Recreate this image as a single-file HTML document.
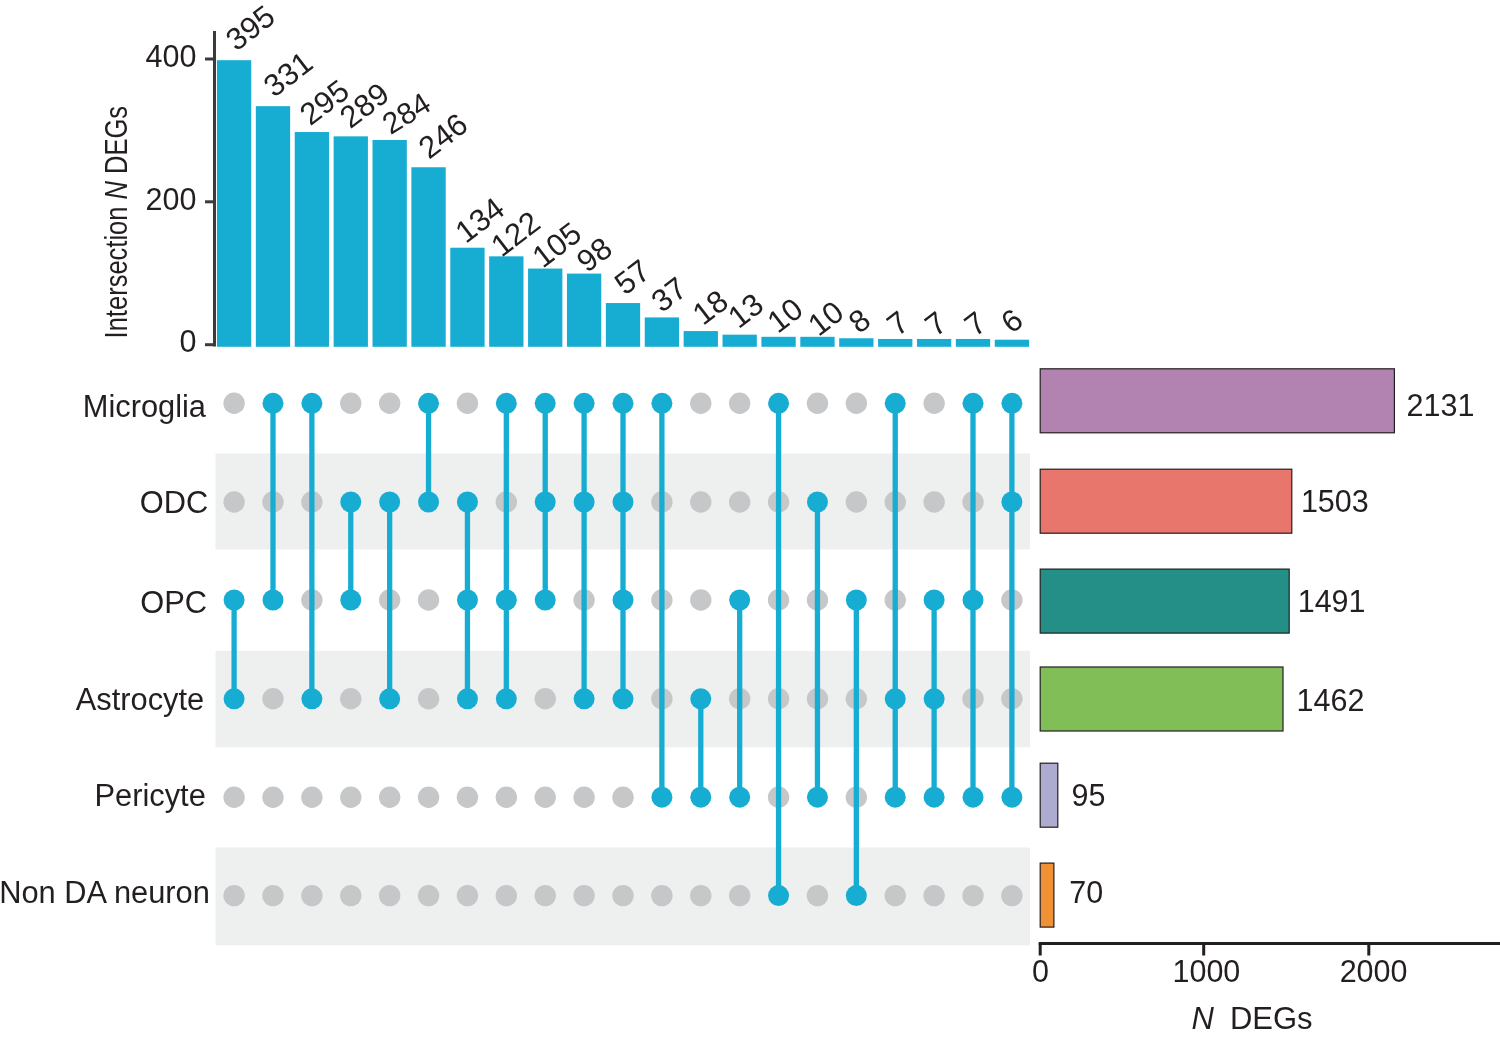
<!DOCTYPE html><html><head><meta charset="utf-8"><title>UpSet plot</title><style>html,body{margin:0;padding:0;background:#fff}svg{display:block}</style></head><body>
<svg width="1500" height="1039" viewBox="0 0 1500 1039" font-family="Liberation Sans, Arial, Helvetica, sans-serif" fill="#231f20">
<rect width="1500" height="1039" fill="#fff"/>
<rect x="215.5" y="453.5" width="814.5" height="96.0" fill="#eeefef"/>
<rect x="215.5" y="650.8" width="814.5" height="96.5" fill="#eeefef"/>
<rect x="215.5" y="847.5" width="814.5" height="97.79999999999995" fill="#eeefef"/>
<rect x="216.95" y="60.19" width="34.3" height="286.61" fill="#17add3"/>
<rect x="255.84" y="106.18" width="34.3" height="240.62" fill="#17add3"/>
<rect x="294.73" y="132.04" width="34.3" height="214.76" fill="#17add3"/>
<rect x="333.62" y="136.35" width="34.3" height="210.45" fill="#17add3"/>
<rect x="372.51" y="139.95" width="34.3" height="206.85" fill="#17add3"/>
<rect x="411.40" y="167.25" width="34.3" height="179.55" fill="#17add3"/>
<rect x="450.29" y="247.72" width="34.3" height="99.08" fill="#17add3"/>
<rect x="489.18" y="256.34" width="34.3" height="90.46" fill="#17add3"/>
<rect x="528.07" y="268.56" width="34.3" height="78.24" fill="#17add3"/>
<rect x="566.96" y="273.59" width="34.3" height="73.21" fill="#17add3"/>
<rect x="605.85" y="303.05" width="34.3" height="43.75" fill="#17add3"/>
<rect x="644.74" y="317.42" width="34.3" height="29.38" fill="#17add3"/>
<rect x="683.63" y="331.07" width="34.3" height="15.73" fill="#17add3"/>
<rect x="722.52" y="334.66" width="34.3" height="12.14" fill="#17add3"/>
<rect x="761.41" y="336.81" width="34.3" height="9.99" fill="#17add3"/>
<rect x="800.30" y="336.81" width="34.3" height="9.99" fill="#17add3"/>
<rect x="839.19" y="338.25" width="34.3" height="8.55" fill="#17add3"/>
<rect x="878.08" y="338.97" width="34.3" height="7.83" fill="#17add3"/>
<rect x="916.97" y="338.97" width="34.3" height="7.83" fill="#17add3"/>
<rect x="955.86" y="338.97" width="34.3" height="7.83" fill="#17add3"/>
<rect x="994.75" y="339.69" width="34.3" height="7.11" fill="#17add3"/>
<rect x="213" y="31" width="3" height="315.5" fill="#3d3a3d"/>
<rect x="205" y="57.5" width="9" height="3" fill="#3d3a3d"/>
<text x="196.5" y="66.7" font-size="30.5" text-anchor="end">400</text>
<rect x="205" y="200.3" width="9" height="3" fill="#3d3a3d"/>
<text x="196.5" y="209.5" font-size="30.5" text-anchor="end">200</text>
<rect x="205" y="343.2" width="9" height="3" fill="#3d3a3d"/>
<text x="196.5" y="352.4" font-size="30.5" text-anchor="end">0</text>
<text transform="translate(126.6,338.4) rotate(-90)" font-size="32" textLength="232.5" lengthAdjust="spacingAndGlyphs">Intersection <tspan font-style="italic">N</tspan> DEGs</text>
<text transform="translate(236.2,52.0) rotate(-37.5)" font-size="31">395</text>
<text transform="translate(274.0,98.2) rotate(-37.5)" font-size="31">331</text>
<text transform="translate(310.3,126.6) rotate(-37.5)" font-size="31">295</text>
<text transform="translate(350.3,129.5) rotate(-37.5)" font-size="31">289</text>
<text transform="translate(390.4,135.3) rotate(-31.5)" font-size="30">284</text>
<text transform="translate(429.0,160.0) rotate(-37.5)" font-size="31">246</text>
<text transform="translate(465.7,244.3) rotate(-37.5)" font-size="31">134</text>
<text transform="translate(501.4,258.1) rotate(-37.5)" font-size="31">122</text>
<text transform="translate(542.7,269.0) rotate(-37.5)" font-size="31">105</text>
<text transform="translate(587.0,273.5) rotate(-37.5)" font-size="31">98</text>
<text transform="translate(625.0,296.1) rotate(-37.5)" font-size="31">57</text>
<text transform="translate(661.8,313.5) rotate(-37.5)" font-size="31">37</text>
<text transform="translate(703.1,326.3) rotate(-37.5)" font-size="31">18</text>
<text transform="translate(738.4,329.5) rotate(-37.5)" font-size="31">13</text>
<text transform="translate(777.8,334.3) rotate(-37.5)" font-size="31">10</text>
<text transform="translate(818.5,337.3) rotate(-37.5)" font-size="31">10</text>
<text transform="translate(859.0,334.4) rotate(-37.5)" font-size="31">8</text>
<text transform="translate(897.5,337.1) rotate(-37.5)" font-size="31">7</text>
<text transform="translate(935.4,337.6) rotate(-37.5)" font-size="31">7</text>
<text transform="translate(975.0,337.6) rotate(-37.5)" font-size="31">7</text>
<text transform="translate(1011.4,334.6) rotate(-37.5)" font-size="31">6</text>
<circle cx="234.10" cy="403.3" r="10.7" fill="#c5c7c8"/>
<circle cx="234.10" cy="502.0" r="10.7" fill="#c5c7c8"/>
<circle cx="234.10" cy="797.2" r="10.7" fill="#c5c7c8"/>
<circle cx="234.10" cy="895.6" r="10.7" fill="#c5c7c8"/>
<circle cx="272.99" cy="502.0" r="10.7" fill="#c5c7c8"/>
<circle cx="272.99" cy="698.8" r="10.7" fill="#c5c7c8"/>
<circle cx="272.99" cy="797.2" r="10.7" fill="#c5c7c8"/>
<circle cx="272.99" cy="895.6" r="10.7" fill="#c5c7c8"/>
<circle cx="311.88" cy="502.0" r="10.7" fill="#c5c7c8"/>
<circle cx="311.88" cy="600.0" r="10.7" fill="#c5c7c8"/>
<circle cx="311.88" cy="797.2" r="10.7" fill="#c5c7c8"/>
<circle cx="311.88" cy="895.6" r="10.7" fill="#c5c7c8"/>
<circle cx="350.77" cy="403.3" r="10.7" fill="#c5c7c8"/>
<circle cx="350.77" cy="698.8" r="10.7" fill="#c5c7c8"/>
<circle cx="350.77" cy="797.2" r="10.7" fill="#c5c7c8"/>
<circle cx="350.77" cy="895.6" r="10.7" fill="#c5c7c8"/>
<circle cx="389.66" cy="403.3" r="10.7" fill="#c5c7c8"/>
<circle cx="389.66" cy="600.0" r="10.7" fill="#c5c7c8"/>
<circle cx="389.66" cy="797.2" r="10.7" fill="#c5c7c8"/>
<circle cx="389.66" cy="895.6" r="10.7" fill="#c5c7c8"/>
<circle cx="428.55" cy="600.0" r="10.7" fill="#c5c7c8"/>
<circle cx="428.55" cy="698.8" r="10.7" fill="#c5c7c8"/>
<circle cx="428.55" cy="797.2" r="10.7" fill="#c5c7c8"/>
<circle cx="428.55" cy="895.6" r="10.7" fill="#c5c7c8"/>
<circle cx="467.44" cy="403.3" r="10.7" fill="#c5c7c8"/>
<circle cx="467.44" cy="797.2" r="10.7" fill="#c5c7c8"/>
<circle cx="467.44" cy="895.6" r="10.7" fill="#c5c7c8"/>
<circle cx="506.33" cy="502.0" r="10.7" fill="#c5c7c8"/>
<circle cx="506.33" cy="797.2" r="10.7" fill="#c5c7c8"/>
<circle cx="506.33" cy="895.6" r="10.7" fill="#c5c7c8"/>
<circle cx="545.22" cy="698.8" r="10.7" fill="#c5c7c8"/>
<circle cx="545.22" cy="797.2" r="10.7" fill="#c5c7c8"/>
<circle cx="545.22" cy="895.6" r="10.7" fill="#c5c7c8"/>
<circle cx="584.11" cy="600.0" r="10.7" fill="#c5c7c8"/>
<circle cx="584.11" cy="797.2" r="10.7" fill="#c5c7c8"/>
<circle cx="584.11" cy="895.6" r="10.7" fill="#c5c7c8"/>
<circle cx="623.00" cy="797.2" r="10.7" fill="#c5c7c8"/>
<circle cx="623.00" cy="895.6" r="10.7" fill="#c5c7c8"/>
<circle cx="661.89" cy="502.0" r="10.7" fill="#c5c7c8"/>
<circle cx="661.89" cy="600.0" r="10.7" fill="#c5c7c8"/>
<circle cx="661.89" cy="698.8" r="10.7" fill="#c5c7c8"/>
<circle cx="661.89" cy="895.6" r="10.7" fill="#c5c7c8"/>
<circle cx="700.78" cy="403.3" r="10.7" fill="#c5c7c8"/>
<circle cx="700.78" cy="502.0" r="10.7" fill="#c5c7c8"/>
<circle cx="700.78" cy="600.0" r="10.7" fill="#c5c7c8"/>
<circle cx="700.78" cy="895.6" r="10.7" fill="#c5c7c8"/>
<circle cx="739.67" cy="403.3" r="10.7" fill="#c5c7c8"/>
<circle cx="739.67" cy="502.0" r="10.7" fill="#c5c7c8"/>
<circle cx="739.67" cy="698.8" r="10.7" fill="#c5c7c8"/>
<circle cx="739.67" cy="895.6" r="10.7" fill="#c5c7c8"/>
<circle cx="778.56" cy="502.0" r="10.7" fill="#c5c7c8"/>
<circle cx="778.56" cy="600.0" r="10.7" fill="#c5c7c8"/>
<circle cx="778.56" cy="698.8" r="10.7" fill="#c5c7c8"/>
<circle cx="778.56" cy="797.2" r="10.7" fill="#c5c7c8"/>
<circle cx="817.45" cy="403.3" r="10.7" fill="#c5c7c8"/>
<circle cx="817.45" cy="600.0" r="10.7" fill="#c5c7c8"/>
<circle cx="817.45" cy="698.8" r="10.7" fill="#c5c7c8"/>
<circle cx="817.45" cy="895.6" r="10.7" fill="#c5c7c8"/>
<circle cx="856.34" cy="403.3" r="10.7" fill="#c5c7c8"/>
<circle cx="856.34" cy="502.0" r="10.7" fill="#c5c7c8"/>
<circle cx="856.34" cy="698.8" r="10.7" fill="#c5c7c8"/>
<circle cx="856.34" cy="797.2" r="10.7" fill="#c5c7c8"/>
<circle cx="895.23" cy="502.0" r="10.7" fill="#c5c7c8"/>
<circle cx="895.23" cy="600.0" r="10.7" fill="#c5c7c8"/>
<circle cx="895.23" cy="895.6" r="10.7" fill="#c5c7c8"/>
<circle cx="934.12" cy="403.3" r="10.7" fill="#c5c7c8"/>
<circle cx="934.12" cy="502.0" r="10.7" fill="#c5c7c8"/>
<circle cx="934.12" cy="895.6" r="10.7" fill="#c5c7c8"/>
<circle cx="973.01" cy="502.0" r="10.7" fill="#c5c7c8"/>
<circle cx="973.01" cy="698.8" r="10.7" fill="#c5c7c8"/>
<circle cx="973.01" cy="895.6" r="10.7" fill="#c5c7c8"/>
<circle cx="1011.90" cy="600.0" r="10.7" fill="#c5c7c8"/>
<circle cx="1011.90" cy="698.8" r="10.7" fill="#c5c7c8"/>
<circle cx="1011.90" cy="895.6" r="10.7" fill="#c5c7c8"/>
<line x1="234.10" x2="234.10" y1="600.0" y2="698.8" stroke="#17add3" stroke-width="5.3"/>
<circle cx="234.10" cy="600.0" r="10.5" fill="#17add3"/>
<circle cx="234.10" cy="698.8" r="10.5" fill="#17add3"/>
<line x1="272.99" x2="272.99" y1="403.3" y2="600.0" stroke="#17add3" stroke-width="5.3"/>
<circle cx="272.99" cy="403.3" r="10.5" fill="#17add3"/>
<circle cx="272.99" cy="600.0" r="10.5" fill="#17add3"/>
<line x1="311.88" x2="311.88" y1="403.3" y2="698.8" stroke="#17add3" stroke-width="5.3"/>
<circle cx="311.88" cy="403.3" r="10.5" fill="#17add3"/>
<circle cx="311.88" cy="698.8" r="10.5" fill="#17add3"/>
<line x1="350.77" x2="350.77" y1="502.0" y2="600.0" stroke="#17add3" stroke-width="5.3"/>
<circle cx="350.77" cy="502.0" r="10.5" fill="#17add3"/>
<circle cx="350.77" cy="600.0" r="10.5" fill="#17add3"/>
<line x1="389.66" x2="389.66" y1="502.0" y2="698.8" stroke="#17add3" stroke-width="5.3"/>
<circle cx="389.66" cy="502.0" r="10.5" fill="#17add3"/>
<circle cx="389.66" cy="698.8" r="10.5" fill="#17add3"/>
<line x1="428.55" x2="428.55" y1="403.3" y2="502.0" stroke="#17add3" stroke-width="5.3"/>
<circle cx="428.55" cy="403.3" r="10.5" fill="#17add3"/>
<circle cx="428.55" cy="502.0" r="10.5" fill="#17add3"/>
<line x1="467.44" x2="467.44" y1="502.0" y2="698.8" stroke="#17add3" stroke-width="5.3"/>
<circle cx="467.44" cy="502.0" r="10.5" fill="#17add3"/>
<circle cx="467.44" cy="600.0" r="10.5" fill="#17add3"/>
<circle cx="467.44" cy="698.8" r="10.5" fill="#17add3"/>
<line x1="506.33" x2="506.33" y1="403.3" y2="698.8" stroke="#17add3" stroke-width="5.3"/>
<circle cx="506.33" cy="403.3" r="10.5" fill="#17add3"/>
<circle cx="506.33" cy="600.0" r="10.5" fill="#17add3"/>
<circle cx="506.33" cy="698.8" r="10.5" fill="#17add3"/>
<line x1="545.22" x2="545.22" y1="403.3" y2="600.0" stroke="#17add3" stroke-width="5.3"/>
<circle cx="545.22" cy="403.3" r="10.5" fill="#17add3"/>
<circle cx="545.22" cy="502.0" r="10.5" fill="#17add3"/>
<circle cx="545.22" cy="600.0" r="10.5" fill="#17add3"/>
<line x1="584.11" x2="584.11" y1="403.3" y2="698.8" stroke="#17add3" stroke-width="5.3"/>
<circle cx="584.11" cy="403.3" r="10.5" fill="#17add3"/>
<circle cx="584.11" cy="502.0" r="10.5" fill="#17add3"/>
<circle cx="584.11" cy="698.8" r="10.5" fill="#17add3"/>
<line x1="623.00" x2="623.00" y1="403.3" y2="698.8" stroke="#17add3" stroke-width="5.3"/>
<circle cx="623.00" cy="403.3" r="10.5" fill="#17add3"/>
<circle cx="623.00" cy="502.0" r="10.5" fill="#17add3"/>
<circle cx="623.00" cy="600.0" r="10.5" fill="#17add3"/>
<circle cx="623.00" cy="698.8" r="10.5" fill="#17add3"/>
<line x1="661.89" x2="661.89" y1="403.3" y2="797.2" stroke="#17add3" stroke-width="5.3"/>
<circle cx="661.89" cy="403.3" r="10.5" fill="#17add3"/>
<circle cx="661.89" cy="797.2" r="10.5" fill="#17add3"/>
<line x1="700.78" x2="700.78" y1="698.8" y2="797.2" stroke="#17add3" stroke-width="5.3"/>
<circle cx="700.78" cy="698.8" r="10.5" fill="#17add3"/>
<circle cx="700.78" cy="797.2" r="10.5" fill="#17add3"/>
<line x1="739.67" x2="739.67" y1="600.0" y2="797.2" stroke="#17add3" stroke-width="5.3"/>
<circle cx="739.67" cy="600.0" r="10.5" fill="#17add3"/>
<circle cx="739.67" cy="797.2" r="10.5" fill="#17add3"/>
<line x1="778.56" x2="778.56" y1="403.3" y2="895.6" stroke="#17add3" stroke-width="5.3"/>
<circle cx="778.56" cy="403.3" r="10.5" fill="#17add3"/>
<circle cx="778.56" cy="895.6" r="10.5" fill="#17add3"/>
<line x1="817.45" x2="817.45" y1="502.0" y2="797.2" stroke="#17add3" stroke-width="5.3"/>
<circle cx="817.45" cy="502.0" r="10.5" fill="#17add3"/>
<circle cx="817.45" cy="797.2" r="10.5" fill="#17add3"/>
<line x1="856.34" x2="856.34" y1="600.0" y2="895.6" stroke="#17add3" stroke-width="5.3"/>
<circle cx="856.34" cy="600.0" r="10.5" fill="#17add3"/>
<circle cx="856.34" cy="895.6" r="10.5" fill="#17add3"/>
<line x1="895.23" x2="895.23" y1="403.3" y2="797.2" stroke="#17add3" stroke-width="5.3"/>
<circle cx="895.23" cy="403.3" r="10.5" fill="#17add3"/>
<circle cx="895.23" cy="698.8" r="10.5" fill="#17add3"/>
<circle cx="895.23" cy="797.2" r="10.5" fill="#17add3"/>
<line x1="934.12" x2="934.12" y1="600.0" y2="797.2" stroke="#17add3" stroke-width="5.3"/>
<circle cx="934.12" cy="600.0" r="10.5" fill="#17add3"/>
<circle cx="934.12" cy="698.8" r="10.5" fill="#17add3"/>
<circle cx="934.12" cy="797.2" r="10.5" fill="#17add3"/>
<line x1="973.01" x2="973.01" y1="403.3" y2="797.2" stroke="#17add3" stroke-width="5.3"/>
<circle cx="973.01" cy="403.3" r="10.5" fill="#17add3"/>
<circle cx="973.01" cy="600.0" r="10.5" fill="#17add3"/>
<circle cx="973.01" cy="797.2" r="10.5" fill="#17add3"/>
<line x1="1011.90" x2="1011.90" y1="403.3" y2="797.2" stroke="#17add3" stroke-width="5.3"/>
<circle cx="1011.90" cy="403.3" r="10.5" fill="#17add3"/>
<circle cx="1011.90" cy="502.0" r="10.5" fill="#17add3"/>
<circle cx="1011.90" cy="797.2" r="10.5" fill="#17add3"/>
<text x="206" y="416.7" font-size="30.8" text-anchor="end">Microglia</text>
<text x="208.3" y="512.7" font-size="30.8" text-anchor="end">ODC</text>
<text x="207" y="613.3" font-size="30.8" text-anchor="end">OPC</text>
<text x="204.2" y="710.2" font-size="30.8" text-anchor="end">Astrocyte</text>
<text x="205.8" y="806.3" font-size="30.8" text-anchor="end">Pericyte</text>
<text x="209.8" y="903.3" font-size="30.8" text-anchor="end">Non DA neuron</text>
<rect x="1040.2" y="368.8" width="354.2" height="64" fill="#b283b0" stroke="#231f20" stroke-width="1.2"/>
<text x="1406.6" y="416.2" font-size="30.5">2131</text>
<rect x="1040.2" y="469.2" width="251.6" height="64" fill="#e8766d" stroke="#231f20" stroke-width="1.2"/>
<text x="1300.9" y="512.4" font-size="30.5">1503</text>
<rect x="1040.2" y="569.1" width="249.0" height="64" fill="#248f86" stroke="#231f20" stroke-width="1.2"/>
<text x="1297.7" y="612.4" font-size="30.5">1491</text>
<rect x="1040.2" y="667.0" width="242.8" height="64" fill="#82be57" stroke="#231f20" stroke-width="1.2"/>
<text x="1296.5" y="710.8" font-size="30.5">1462</text>
<rect x="1040.2" y="763.2" width="17.6" height="64" fill="#aeabd0" stroke="#231f20" stroke-width="1.2"/>
<text x="1071.5" y="805.6" font-size="30.5">95</text>
<rect x="1040.2" y="863.1" width="13.7" height="64" fill="#f19135" stroke="#231f20" stroke-width="1.2"/>
<text x="1069.2" y="903.2" font-size="30.5">70</text>
<rect x="1038.7" y="942" width="462" height="3" fill="#231f20"/>
<rect x="1038.7" y="943" width="3" height="12.5" fill="#231f20"/>
<text x="1040.6000000000001" y="982.3" font-size="30.5" text-anchor="middle">0</text>
<rect x="1202.2" y="943" width="3" height="12.5" fill="#231f20"/>
<text x="1206.4" y="982.3" font-size="30.5" text-anchor="middle">1000</text>
<rect x="1367.3" y="943" width="3" height="12.5" fill="#231f20"/>
<text x="1373.6" y="982.3" font-size="30.5" text-anchor="middle">2000</text>
<text x="1191.5" y="1028.8" font-size="31"><tspan font-style="italic">N</tspan><tspan dx="16">DEGs</tspan></text>
</svg></body></html>
